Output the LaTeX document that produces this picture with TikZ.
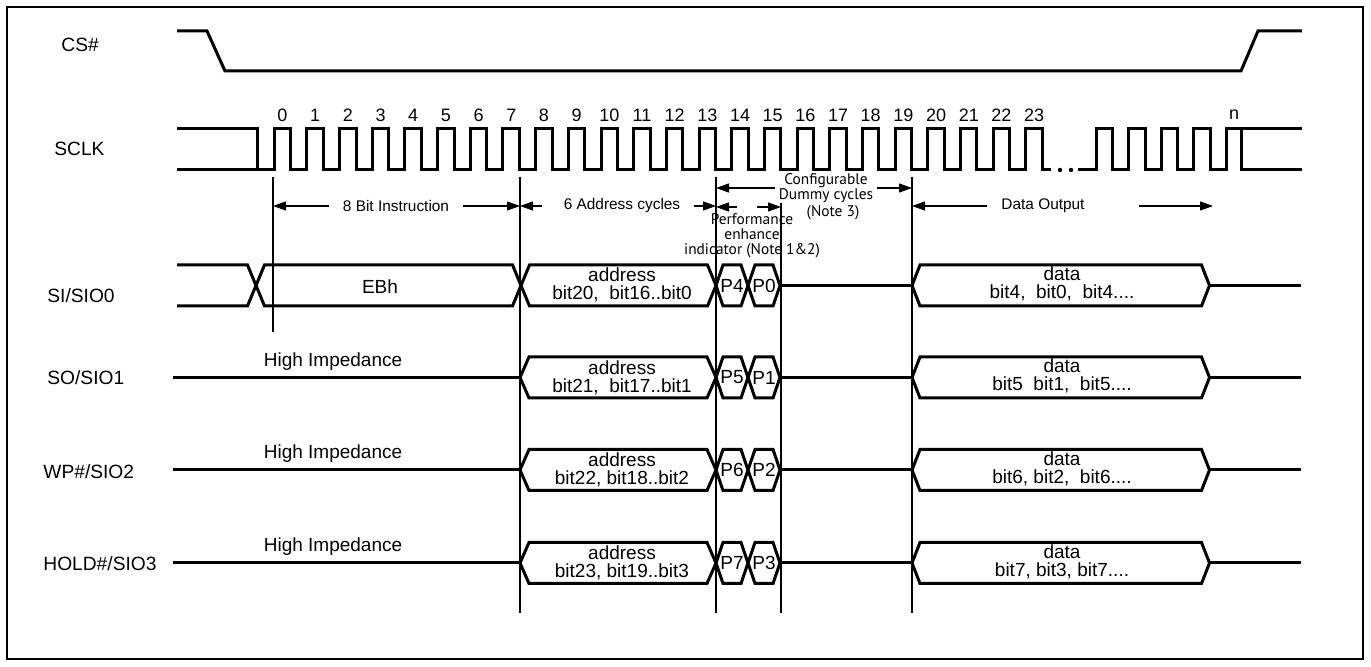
\documentclass[tikz,border=0pt]{standalone}
\usepackage{fontspec}
\setmainfont{Liberation Sans}
\newfontfamily\notefont{PT Sans}
\usetikzlibrary{arrows.meta,positioning,calc}

\tikzstyle{sig} = [draw, line width=1.5pt, line join=miter]
\tikzstyle{guide} = [draw, line width=0.6pt]
\tikzstyle{frame} = [draw, line width=0.65pt]
\tikzstyle{dimline} = [draw, line width=0.6pt, -{Triangle[length=6.5pt,width=4.5pt]}]
\tikzstyle{signame} = [font=\fontsize{9.6}{11}\selectfont, inner sep=0pt, anchor=west]
\tikzstyle{buslbl} = [font=\fontsize{9.5}{9}\selectfont, align=center, inner sep=0pt]
\tikzstyle{dimlbl} = [font=\fontsize{7.7}{9}\selectfont, inner sep=0pt, outer xsep=7pt]
\tikzstyle{cyclbl} = [font=\fontsize{9}{10}\selectfont, inner sep=0pt]
\tikzstyle{notelbl} = [font={\notefont\fontsize{7.7}{7.5}\selectfont\lineskiplimit=-10pt},
  align=center, inner sep=0pt]

% hexagon of one bus value: from x #1 to x #2, centre y #3, edge run #4
\newcommand{\busbox}[4]{%
  \draw[sig] (#1,#3) -- ({#1+#4},{#3-20.5}) -- ({#2-#4},{#3-20.5}) -- (#2,#3)
    -- ({#2-#4},{#3+20.5}) -- ({#1+#4},{#3+20.5}) -- cycle;}

\begin{document}
\begin{tikzpicture}[x=0.5pt, y=-0.5pt]

  \useasboundingbox (0,0) rectangle (1371,667);
  \draw[frame] (7,7) rectangle (1363,659);

  %%%%%%%%%%%%%%%%%%%%%%%%%%%%%%%%%%%%%%%%%%%%%%%%%%%%%%%%%%%%%%
  %                    SIGNAL NAMES                            %
  %%%%%%%%%%%%%%%%%%%%%%%%%%%%%%%%%%%%%%%%%%%%%%%%%%%%%%%%%%%%%%

  \node[signame] (cs-name) at (61,45) {CS\#};
  \node[signame] (sclk-name) at (54,149) {SCLK};
  \node[signame] (si-name) at (47,296) {SI/SIO0};
  \node[signame] (so-name) at (47,378) {SO/SIO1};
  \node[signame] (wp-name) at (43,472) {WP\#/SIO2};
  \node[signame] (hold-name) at (43,564) {HOLD\#/SIO3};

  %%%%%%%%%%%%%%%%%%%%%%%%%%%%%%%%%%%%%%%%%%%%%%%%%%%%%%%%%%%%%%
  %                    CS# AND SCLK                            %
  %%%%%%%%%%%%%%%%%%%%%%%%%%%%%%%%%%%%%%%%%%%%%%%%%%%%%%%%%%%%%%

  \draw[sig] (177,31) -- (207,31) -- (225,71) -- (1241,71) -- (1258,31) -- (1302,31);

  \draw[sig] (177,129) -- (257,129) -- (257,170);
  \draw[sig] (177,170) \foreach \k in {0,...,23} {
      -- ({274.2+32.68*\k},170) -- ({274.2+32.68*\k},129)
      -- ({290.7+32.68*\k},129) -- ({290.7+32.68*\k},170) } -- (1051,170);
  \fill (1060,170) circle (1.1pt);
  \fill (1071,170) circle (1.1pt);
  \draw[sig] (1078,170) \foreach \k in {0,...,3} {
      -- ({1096+32.5*\k},170) -- ({1096+32.5*\k},129)
      -- ({1112.5+32.5*\k},129) -- ({1112.5+32.5*\k},170) }
      -- (1226,170) -- (1226,129) -- (1302,129);
  \draw[sig] (1241.7,129) -- (1241.7,170) -- (1302,170);

  \foreach \k in {0,...,23}
    \node[cyclbl] (cyc-\k) at ({282.5+32.68*\k},115) {\k};
  \node[cyclbl] (cyc-n) at (1234,115) {n};

  %%%%%%%%%%%%%%%%%%%%%%%%%%%%%%%%%%%%%%%%%%%%%%%%%%%%%%%%%%%%%%
  %                    PHASE MARKERS                           %
  %%%%%%%%%%%%%%%%%%%%%%%%%%%%%%%%%%%%%%%%%%%%%%%%%%%%%%%%%%%%%%

  \foreach \nm/\xx/\ya/\yb in {e0/273/177/332, e7/520/177/613, e13/716/177/613,
                               e15/781/203/613, e19/912/177/613} {
    \coordinate (\nm-top) at (\xx,\ya);
    \coordinate (\nm-bot) at (\xx,\yb);
    \draw[guide] (\nm-top) -- (\nm-bot);
  }

  \node[dimlbl] (instr) at (396,206) {8 Bit Instruction};
  \draw[dimline] (instr.west) -- (instr.west -| e0-top);
  \draw[dimline] (instr.east) -- (instr.east -| e7-top);

  \node[dimlbl] (addr-cyc) at (622,206) {6 Address cycles};
  \draw[dimline, shorten <=4pt] (addr-cyc.west) -- (addr-cyc.west -| e7-top);
  \draw[dimline] (addr-cyc.east) -- (addr-cyc.east -| e13-top);

  \node[notelbl, outer xsep=2pt] (dummy) at (826,188) {Configurable\\Dummy cycles};
  \draw[dimline] (dummy.west) -- (dummy.west -| e13-top);
  \draw[dimline] (dummy.east) -- (dummy.east -| e19-top);
  \node[notelbl] (note3) at (833,213) {(Note 3)};

  \coordinate (perf-l) at (737,207);
  \coordinate (perf-r) at (757,207);
  \draw[dimline] (perf-l) -- (perf-l -| e13-top);
  \draw[dimline] (perf-r) -- (perf-r -| e15-top);
  \node[notelbl] (perf) at (752,236) {Performance\\enhance\\indicator (Note 1\&2)};

  \node[dimlbl] (data-out) at (1043,206) {Data Output};
  \coordinate (data-end) at (1213,206);
  \draw[dimline] (data-out.west) -- (data-out.west -| e19-top);
  \draw[dimline, shorten <=20pt] (data-out.east) -- (data-end);

  %%%%%%%%%%%%%%%%%%%%%%%%%%%%%%%%%%%%%%%%%%%%%%%%%%%%%%%%%%%%%%
  %                    SI/SIO0                                 %
  %%%%%%%%%%%%%%%%%%%%%%%%%%%%%%%%%%%%%%%%%%%%%%%%%%%%%%%%%%%%%%

  \draw[sig] (177,265) -- (247.5,265) -- (256,285.5) -- (247.5,306) -- (177,306);
  \busbox{256}{521}{285.5}{8.5}
  \node[buslbl] (si-cmd) at (380,286.5) {EBh};
  \busbox{521}{716}{285.5}{8.5}
  \node[buslbl] (si-addr) at (622,285) {address\\bit20,\ \ bit16..bit0};
  \busbox{716}{748}{285.5}{7}
  \node[buslbl] (si-pa) at (732,285.5) {P4};
  \busbox{748}{780}{285.5}{7}
  \node[buslbl] (si-pb) at (764,285.5) {P0};
  \draw[sig] (780,285.5) -- (912,285.5);
  \busbox{912}{1209.5}{285.5}{8}
  \node[buslbl] (si-data) at (1062,284) {data\\bit4,\ \ bit0,\ \ bit4....};
  \draw[sig] (1209.5,285.5) -- (1301,285.5);

  %%%%%%%%%%%%%%%%%%%%%%%%%%%%%%%%%%%%%%%%%%%%%%%%%%%%%%%%%%%%%%
  %                    SIO1 .. SIO3                            %
  %%%%%%%%%%%%%%%%%%%%%%%%%%%%%%%%%%%%%%%%%%%%%%%%%%%%%%%%%%%%%%

  \foreach \yy/\tag/\pa/\pb/\abits/\dbits in {
      377.5/so/5/1/{bit21,\ \ bit17..bit1}/{bit5\ \ bit1,\ \ bit5....},
      470/wp/6/2/{bit22, bit18..bit2}/{bit6, bit2,\ \ bit6....},
      563/hold/7/3/{bit23, bit19..bit3}/{bit7, bit3, bit7....}} {
    \draw[sig] (173,\yy) -- (520,\yy);
    \node[buslbl] (\tag-hiz) at (333,\yy-16) {High Impedance};
    \busbox{520}{716}{\yy}{9}
    \node[buslbl] (\tag-addr) at (622,\yy) {address\\\abits};
    \busbox{716}{748}{\yy}{7}
    \node[buslbl] (\tag-pa) at (732,\yy) {P\pa};
    \busbox{748}{780}{\yy}{7}
    \node[buslbl] (\tag-pb) at (764,\yy) {P\pb};
    \draw[sig] (780,\yy) -- (912,\yy);
    \busbox{912}{1209.5}{\yy}{8}
    \node[buslbl] (\tag-data) at (1062,\yy-1.5) {data\\\dbits};
    \draw[sig] (1209.5,\yy) -- (1301,\yy);
  }

\end{tikzpicture}
\end{document}
